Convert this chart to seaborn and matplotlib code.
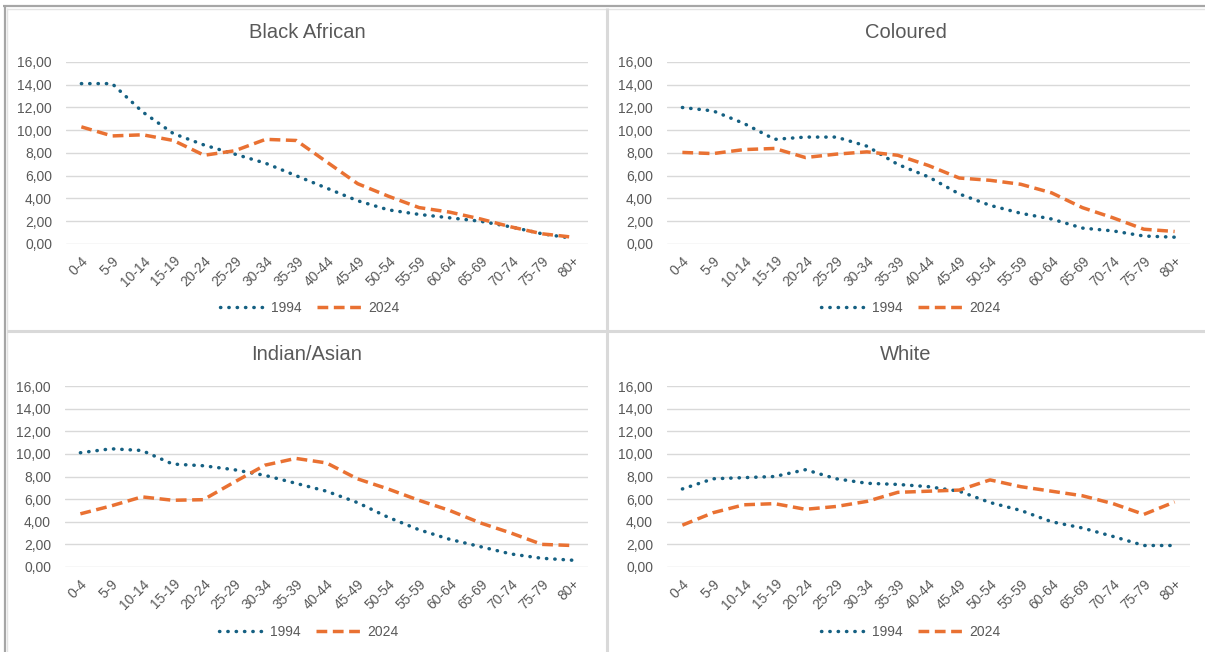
import matplotlib
matplotlib.use("Agg")
import matplotlib.pyplot as plt
from matplotlib.lines import Line2D
from matplotlib.ticker import FuncFormatter
import numpy as np
import pandas as pd
import seaborn as sns

# Age groups and population share (%) by group
ages = ["0-4", "5-9", "10-14", "15-19", "20-24", "25-29", "30-34", "35-39", "40-44",
        "45-49", "50-54", "55-59", "60-64", "65-69", "70-74", "75-79", "80+"]
years = ["1994", "2024"]

black_1994 = [14.1, 14.1, 11.6, 9.7, 8.7, 7.9, 7.1, 6.0, 4.9, 3.8, 3.0, 2.6, 2.3, 2.0, 1.5, 0.9, 0.5]
black_2024 = [10.3, 9.5, 9.6, 9.1, 7.8, 8.2, 9.2, 9.1, 7.2, 5.3, 4.2, 3.2, 2.8, 2.2, 1.5, 0.9, 0.6]
coloured_1994 = [12.0, 11.7, 10.6, 9.2, 9.4, 9.4, 8.6, 7.0, 5.9, 4.4, 3.4, 2.7, 2.2, 1.4, 1.15, 0.7, 0.6]
coloured_2024 = [8.05, 7.95, 8.3, 8.4, 7.6, 7.9, 8.1, 7.8, 6.9, 5.8, 5.6, 5.25, 4.5, 3.2, 2.3, 1.3, 1.1]
indian_1994 = [10.1, 10.45, 10.3, 9.1, 8.95, 8.6, 8.1, 7.4, 6.7, 5.7, 4.4, 3.3, 2.45, 1.8, 1.15, 0.77, 0.6]
indian_2024 = [4.7, 5.4, 6.2, 5.9, 5.95, 7.5, 9.0, 9.6, 9.2, 7.8, 6.9, 5.9, 5.0, 3.9, 3.0, 2.0, 1.9]
white_1994 = [6.9, 7.8, 7.9, 8.0, 8.6, 7.8, 7.4, 7.3, 7.1, 6.7, 5.7, 5.0, 4.0, 3.45, 2.7, 1.9, 1.9]
white_2024 = [3.7, 4.8, 5.5, 5.6, 5.1, 5.35, 5.8, 6.6, 6.7, 6.8, 7.7, 7.1, 6.7, 6.3, 5.6, 4.65, 5.75]

panels = [
    ("Black African", black_1994, black_2024),
    ("Coloured", coloured_1994, coloured_2024),
    ("Indian/Asian", indian_1994, indian_2024),
    ("White", white_1994, white_2024),
]

W, H = 1205, 652
BLUE = "#156082"
ORANGE = "#E97132"
GREY_TXT = "#595959"
GRID = "#D9D9D9"

sns.set_theme(style="white")
plt.rcParams["font.family"] = ["Liberation Sans", "DejaVu Sans"]

fig = plt.figure(figsize=(W / 100, H / 100), dpi=100)
fig.patch.set_facecolor("white")


def px_rect(x0, y0, x1, y1):
    return [x0 / W, (H - y1) / H, (x1 - x0) / W, (y1 - y0) / H]


def fig_line(x0, y0, x1, y1, color, lw):
    fig.add_artist(Line2D([x0 / W, x1 / W], [1 - y0 / H, 1 - y1 / H],
                          transform=fig.transFigure, color=color, lw=lw,
                          solid_capstyle="butt"))


# panel frames
fig_line(3, 5.5, W, 5.5, "#A6A6A6", 1.6)
fig_line(4.5, 5, 4.5, H, "#A6A6A6", 1.6)
fig_line(7, 8.5, W, 8.5, "#E3E3E3", 1.0)
fig_line(7.5, 8, 7.5, H, "#E3E3E3", 1.0)
fig_line(607, 8, 607, H, "#D9D9D9", 2.2)
fig_line(7, 331, W, 331, "#D9D9D9", 2.2)

axes_px = [(66, 62, 588, 244), (667, 62, 1190, 244),
           (65, 386, 588, 567), (667, 386, 1190, 567)]
title_px = [(307, 32), (906, 32), (307, 355), (906, 355)]
legend_px = [(310, 308), (911, 308), (309, 632), (911, 632)]

dash_styles = {"1994": (0.1, 2.3), "2024": (3.1, 1.6)}
palette = {"1994": BLUE, "2024": ORANGE}
pos = np.arange(len(ages))

for (name, v1994, v2024), box, tpos, lpos in zip(panels, axes_px, title_px, legend_px):
    ax = fig.add_axes(px_rect(*box))
    df = pd.DataFrame({
        "pos": np.concatenate([pos, pos]),
        "value": v1994 + v2024,
        "year": [years[0]] * len(ages) + [years[1]] * len(ages),
    })
    sns.lineplot(data=df, x="pos", y="value", hue="year", style="year",
                 palette=palette, dashes=dash_styles, linewidth=2.5,
                 legend=False, ax=ax, sort=False)
    for line in ax.lines:
        line.set_dash_capstyle("round" if line.get_color() == BLUE else "butt")

    ax.set_xlim(-0.5, len(ages) - 0.5)
    ax.set_ylim(0, 16)
    ax.set_yticks(np.arange(0, 17, 2))
    ax.yaxis.set_major_formatter(FuncFormatter(lambda v, p: f"{v:.2f}".replace(".", ",")))
    ax.set_xticks(pos)
    ax.set_xticklabels(ages, rotation=45, ha="right", va="top", rotation_mode="anchor")
    ax.tick_params(axis="x", length=0, pad=7, labelsize=10, labelcolor=GREY_TXT)
    ax.tick_params(axis="y", length=0, pad=10, labelsize=10, labelcolor=GREY_TXT)
    ax.set_xlabel("")
    ax.set_ylabel("")
    ax.grid(axis="y", color=GRID, lw=1.0)
    ax.grid(axis="x", visible=False)
    ax.set_axisbelow(True)
    for s in ax.spines.values():
        s.set_visible(False)
    ax.set_facecolor("none")

    fig.text(tpos[0] / W, 1 - tpos[1] / H, name, ha="center", va="center",
             fontsize=14.5, color=GREY_TXT)

    handles = [ax.lines[0], ax.lines[1]]
    fig.legend(handles, years, loc="center",
               bbox_to_anchor=(lpos[0] / W, 1 - lpos[1] / H),
               ncol=2, frameon=False, fontsize=10, labelcolor=GREY_TXT,
               handlelength=3.3, handletextpad=0.4, columnspacing=1.1,
               borderpad=0, borderaxespad=0)

fig.savefig("out.png", dpi=100, facecolor="white")
